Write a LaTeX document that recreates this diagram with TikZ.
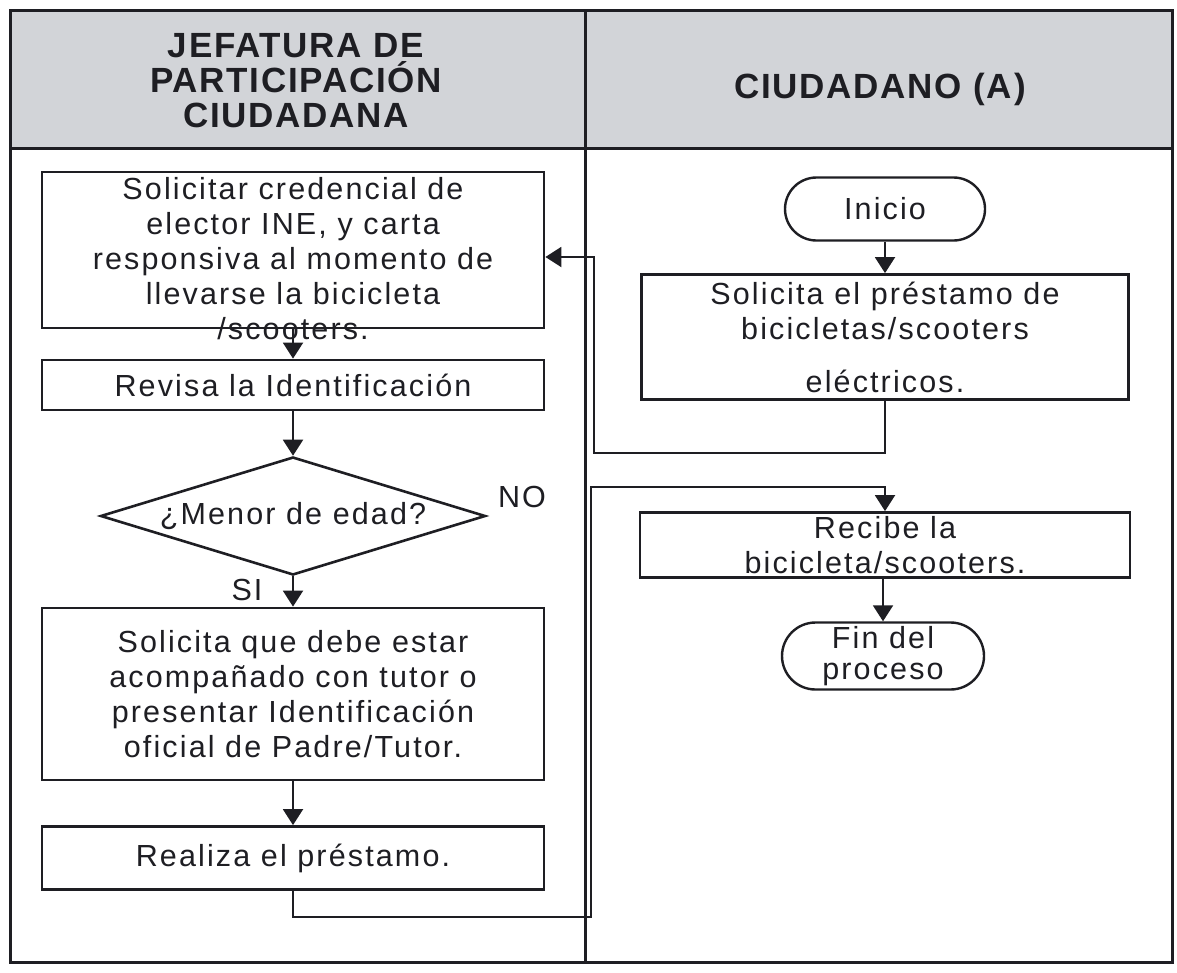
\documentclass[tikz,border=0pt]{standalone}
\usepackage{fontspec}
\setmainfont{Liberation Sans}
\usetikzlibrary{shapes.geometric,shapes.misc,arrows.meta}
\definecolor{ink}{RGB}{30,30,35}
\definecolor{headgray}{RGB}{210,212,216}
\begin{document}
\begin{tikzpicture}[x=1pt,y=-1pt,
  every node/.style={font=\fontsize{30.5}{35}\selectfont\addfontfeature{LetterSpace=7}, text=ink},
  headtext/.style={font=\fontsize{35}{35}\selectfont\bfseries\addfontfeature{LetterSpace=5}, align=center},
  box/.style={draw=ink, line width=2.8pt, rectangle, inner sep=0pt, align=center},
  term/.style={draw=ink, line width=2.4pt, rounded rectangle, minimum width=200pt, minimum height=63pt, inner sep=0pt, align=center},
  conn/.style={draw=ink, line width=2pt},
  arr/.style={conn, -{Triangle[width=20pt,length=16pt]}},
  ]
\useasboundingbox (0,0) rectangle (1177,972);
\fill[white] (0,0) rectangle (1177,972);
\fill[headgray] (10,10) rectangle (1172,148);
\draw[ink, line width=3pt] (10,10) rectangle (1172,962);
\draw[ink, line width=3pt] (10,148) -- (1172,148);
\draw[ink, line width=3pt] (585,10) -- (585,962);

% headers
\node[headtext] (h1) at (296,81) {JEFATURA DE\\PARTICIPACIÓN\\CIUDADANA};
\node[headtext] (h2) at (880,89) {CIUDADANO (A)};

% left lane
\node[box, minimum width=502pt, minimum height=156pt] (b1) at (293,250) {};
\node[align=center] (b1t) at (293,259) {Solicitar credencial de\\elector INE, y carta\\responsiva al momento de\\llevarse la bicicleta\\/scooters.};
\node[box, minimum width=502pt, minimum height=50pt] (b2) at (293,385) {Revisa la Identificación};
\node[draw=ink, line width=2.6pt, diamond, aspect=3.26, minimum width=385pt, minimum height=118pt, inner sep=0pt] (d) at (293,516) {¿Menor de edad?};
\node[box, minimum width=502pt, minimum height=172pt] (b3) at (293,694) {Solicita que debe estar\\acompañado con tutor o\\presentar Identificación\\oficial de Padre/Tutor.};
\node[box, minimum width=502pt, minimum height=63pt] (b4) at (293,858) {Realiza el préstamo.};
\node (no) at (522,497) {NO};
\node (si) at (247,590) {SI};

% right lane
\node[term] (ini) at (885,209) {Inicio};
\node[box, minimum width=487pt, minimum height=125pt] (sol) at (885,337) {Solicita el préstamo de\\bicicletas/scooters\\[18pt]eléctricos.};
\node[box, minimum width=490pt, minimum height=65pt] (rec) at (885,545) {Recibe la\\bicicleta/scooters.};
\node[term, minimum width=202pt, minimum height=67pt] (fin) at (883,656) {Fin del\\[-4pt]proceso};

\coordinate (c1) at (594,453);
\coordinate (c2) at (591,917);
\coordinate (c3) at (591,487);

% connectors
\draw[arr] (b1.south) -- (b2.north);
\draw[arr] (b2.south) -- (d.north);
\draw[arr] (d.south) -- (b3.north);
\draw[arr] (b3.south) -- (b4.north);
\draw[arr] (ini.south) -- (sol.north);
\draw[arr] (sol.south) |- (c1) |- ([yshift=-7pt]b1.east);
\draw[arr] (b4.south) |- (c2) -- (c3) -| (rec.north);
\draw[arr] (rec.south -| fin.north) -- (fin.north);
\end{tikzpicture}
\end{document}
